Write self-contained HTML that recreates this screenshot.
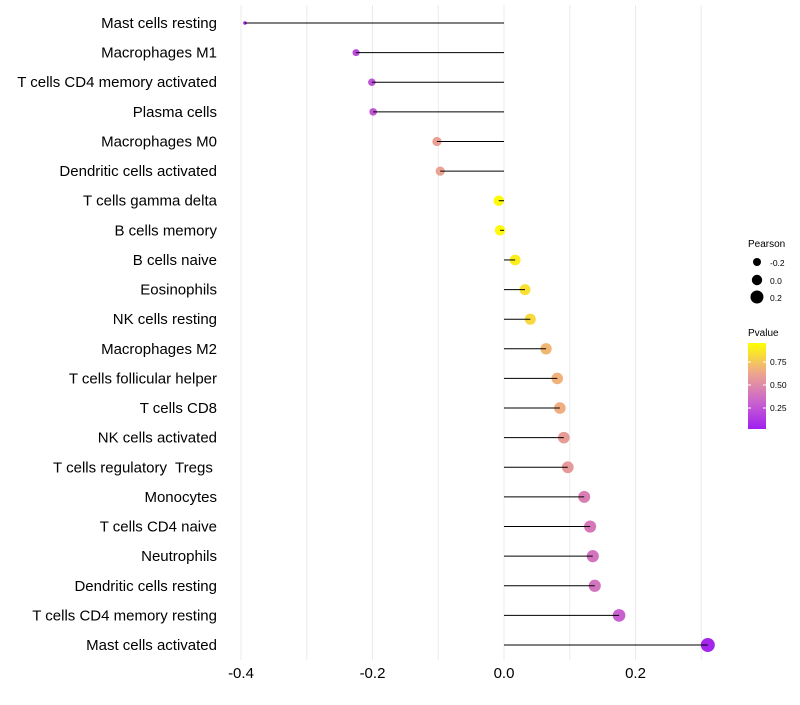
<!DOCTYPE html>
<html><head><meta charset="utf-8"><style>
body{margin:0;background:#fff;font-family:"Liberation Sans",sans-serif;}
text{white-space:pre;}
</style></head><body>
<svg id="chart" width="800" height="700" xmlns="http://www.w3.org/2000/svg">
<defs><linearGradient id="pg" x1="0" y1="1" x2="0" y2="0">
<stop offset="0" stop-color="#a020f0"/><stop offset="0.33" stop-color="#cc66cc"/><stop offset="0.66" stop-color="#eea88a"/><stop offset="1" stop-color="#ffff00"/>
</linearGradient></defs>
<g id="grid"></g><g id="marks"></g><g id="labels"></g><g id="xticks"></g>
<g font-size="10">
<text x="748" y="247" fill="#000">Pearson</text>
<circle cx="757" cy="262" r="4" fill="#000"/><text x="770" y="266" font-size="8.5">-0.2</text>
<circle cx="757" cy="280" r="5.2" fill="#000"/><text x="770" y="284" font-size="8.5">0.0</text>
<circle cx="757" cy="297" r="6.5" fill="#000"/><text x="770" y="301" font-size="8.5">0.2</text>
<text x="748" y="336" fill="#000">Pvalue</text>
<rect x="748" y="343" width="18" height="86" fill="url(#pg)"/>
<line x1="748" y1="362" x2="751" y2="362" stroke="#fff"/><line x1="763" y1="362" x2="766" y2="362" stroke="#fff"/>
<line x1="748" y1="385" x2="751" y2="385" stroke="#fff"/><line x1="763" y1="385" x2="766" y2="385" stroke="#fff"/>
<line x1="748" y1="408" x2="751" y2="408" stroke="#fff"/><line x1="763" y1="408" x2="766" y2="408" stroke="#fff"/>
<text x="770" y="365" font-size="8.5">0.75</text><text x="770" y="388" font-size="8.5">0.50</text><text x="770" y="411" font-size="8.5">0.25</text>
</g>
</svg>
<script>
const categories=["Mast cells resting","Macrophages M1","T cells CD4 memory activated","Plasma cells","Macrophages M0","Dendritic cells activated","T cells gamma delta","B cells memory","B cells naive","Eosinophils","NK cells resting","Macrophages M2","T cells follicular helper","T cells CD8","NK cells activated","T cells regulatory  Tregs ","Monocytes","T cells CD4 naive","Neutrophils","Dendritic cells resting","T cells CD4 memory resting","Mast cells activated"];
const pearson=[-0.394,-0.225,-0.201,-0.199,-0.102,-0.097,-0.008,-0.006,0.017,0.032,0.040,0.064,0.081,0.085,0.091,0.097,0.122,0.131,0.135,0.138,0.175,0.310];
const pvalues=[0.02,0.2,0.24,0.25,0.62,0.63,0.98,0.98,0.93,0.88,0.85,0.72,0.7,0.68,0.6,0.58,0.45,0.42,0.4,0.4,0.3,0.03];
const xTicks=[-0.4,-0.2,0.0,0.2];
const xMinor=[-0.3,-0.1,0.1,0.3];
const NS="http://www.w3.org/2000/svg";
const X=v=>504+v*657.5;
const Y=i=>23+i*(645-23)/(categories.length-1);
const R=v=>Math.max(1.8,Math.sqrt(68*(v+0.41)));
function lerp(a,b,t){return Math.round(a+(b-a)*t);}
const stops=[[0,[160,32,240]],[0.33,[204,102,204]],[0.66,[238,168,138]],[1,[255,255,0]]];
function col(p){for(let k=1;k<stops.length;k++){if(p<=stops[k][0]){const[a,ca]=stops[k-1],[b,cb]=stops[k];const t=(p-a)/(b-a);return`rgb(${lerp(ca[0],cb[0],t)},${lerp(ca[1],cb[1],t)},${lerp(ca[2],cb[2],t)})`;}}return"rgb(255,255,0)";}
function mk(tag,attrs,parent){const e=document.createElementNS(NS,tag);for(const k in attrs)e.setAttribute(k,attrs[k]);parent.appendChild(e);return e;}
const grid=document.getElementById('grid'),marks=document.getElementById('marks'),labels=document.getElementById('labels'),xt=document.getElementById('xticks');
xTicks.concat(xMinor).forEach(v=>{const l=mk('line',{x1:X(v),x2:X(v),y1:5,y2:660,stroke:'#ebebeb','stroke-width':1},grid);

});
xTicks.forEach(v=>{const t=mk('text',{x:X(v),y:678,'text-anchor':'middle','font-size':15,fill:'#000'},xt);t.textContent=v.toFixed(1);

});
categories.forEach((c,i)=>{const y=Y(i);
const t=mk('text',{x:217,y:y+5,'text-anchor':'end','font-size':15,fill:'#000'},labels);t.textContent=c;


const cc=mk('circle',{cx:X(pearson[i]),cy:y,r:R(pearson[i]),fill:col(pvalues[i])},marks);


const ln=mk('line',{x1:X(0),x2:X(pearson[i]),y1:y,y2:y,stroke:'#000','stroke-width':1},marks);

});
</script>
</body></html>
